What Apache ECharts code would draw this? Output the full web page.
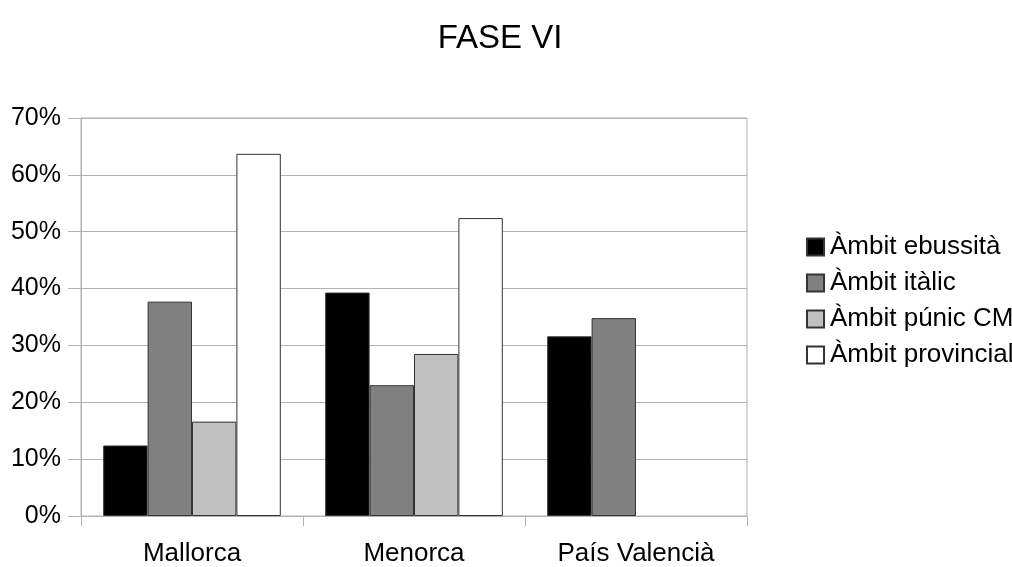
<!DOCTYPE html>
<html><head><meta charset="utf-8">
<script src="https://cdn.jsdelivr.net/npm/echarts@6/dist/echarts.min.js"></script>
<style>html,body{margin:0;padding:0;background:#fff}#c{width:1012px;height:567px}</style>
</head><body><div id="c"></div>
<script>
const categories = ['Mallorca', 'Menorca', 'País Valencià'];
const seriesNames = ['Àmbit ebussità', 'Àmbit itàlic', 'Àmbit púnic CM', 'Àmbit provincial'];
const ebussita = [12.4, 39.3, 31.6];
const italic = [37.7, 23.0, 34.8];
const punic = [16.6, 28.5, null];
const provincial = [63.7, 52.4, null];
const yTicks = [0, 10, 20, 30, 40, 50, 60, 70];

const colors = ['#000000', '#808080', '#c0c0c0', '#ffffff'];
const values = [ebussita, italic, punic, provincial];
const font = 'Liberation Sans, Arial, sans-serif';

const chart = echarts.init(document.getElementById('c'), null, {renderer: 'canvas'});
chart.setOption({
  animation: false,
  backgroundColor: '#fff',
  title: {text: 'FASE VI', left: 495, top: 17, textAlign: 'center',
    textStyle: {fontFamily: font, fontSize: 33, fontWeight: 'normal', color: '#000'}},
  legend: {orient: 'vertical', left: 801, top: 229, itemWidth: 17, itemHeight: 17, itemGap: 10,
    icon: 'rect', data: seriesNames,
    textStyle: {fontFamily: font, fontSize: 26, color: '#000', padding: [0,0,0,1]}},
  grid: {left: 81, right: 265, top: 118, bottom: 48, show: true, borderColor: '#b3b3b3', borderWidth: 1},
  xAxis: {type: 'category', data: categories, boundaryGap: true,
    axisLine: {lineStyle: {color: '#b3b3b3'}},
    axisTick: {show: true, length: 10, alignWithLabel: false, lineStyle: {color: '#b3b3b3'}},
    axisLabel: {fontFamily: font, fontSize: 26, color: '#000', margin: 25}},
  yAxis: {type: 'value', min: yTicks[0], max: yTicks[yTicks.length-1], interval: 10,
    axisLine: {show: true, lineStyle: {color: '#b3b3b3'}},
    axisTick: {show: true, length: 13, lineStyle: {color: '#b3b3b3'}},
    splitLine: {lineStyle: {color: '#b3b3b3'}},
    axisLabel: {fontFamily: font, fontSize: 25, color: '#000', margin: 20, formatter: v => v + '%'}},
  series: seriesNames.map((n, i) => ({
    name: n, type: 'bar', data: values[i], barGap: '0%', barCategoryGap: '20%',
    itemStyle: {color: colors[i], borderColor: '#333', borderWidth: 1}
  }))
});
</script></body></html>
